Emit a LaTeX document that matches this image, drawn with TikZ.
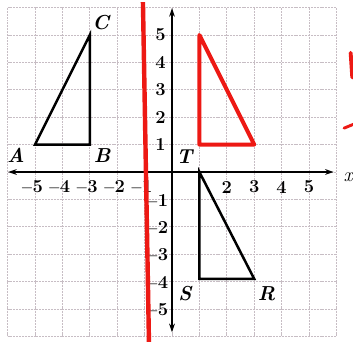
\documentclass[tikz,border=0pt]{standalone}
\usetikzlibrary{arrows.meta}
\definecolor{gridpink}{rgb}{0.78,0.74,0.77}
\definecolor{penred}{rgb}{0.93,0.10,0.08}
\tikzset{
  lbl/.style={font=\fontsize{21}{24}\selectfont\bfseries\itshape},
  num/.style={font=\fontsize{19}{22}\selectfont\bfseries},
  axis/.style={line width=2.2pt, {Stealth[length=9pt,width=6pt]}-{Stealth[length=9pt,width=6pt]}},
  tri/.style={line width=2.6pt, line join=miter},
  redtri/.style={penred, line width=4.2pt, line join=round, line cap=round}
}
\begin{document}
\begin{tikzpicture}
        \useasboundingbox (-6.277,-6.204) rectangle (6.606,6.277);
        \fill[white] (-6.277,-6.204) rectangle (6.606,6.277);
        \draw[step=1cm, gridpink, line width=0.7pt, dash pattern=on 2pt off 1pt] (-6,-6) grid (6,6);
        % axes
        \coordinate (xl) at (-5.98,0);
        \coordinate (xr) at (5.9,0);
        \coordinate (yt) at (0,5.98);
        \coordinate (yb) at (0,-5.85);
        \draw[axis] (xl) -- (xr);
        \draw[axis] (yb) -- (yt);
        \node[font=\fontsize{21}{24}\selectfont\itshape, anchor=east, inner sep=0pt] (xlab) at (6.6,-0.2) {x};
        % tick labels
        \foreach \i in {-5,-4,-3,-2,-1}
          \node[num] (xn\i) at (\i-0.12,-0.55) {$\mathbf{-}$\hspace{-1pt}\the\numexpr-\i\relax};
        \foreach \i in {2,3,4,5}
          \node[num] (xp\i) at (\i,-0.55) {\i};
        \foreach \i in {1,...,5}
          \node[num] (yp\i) at (-0.42,\i) {\i};
        \foreach \i in {1,...,5}
          \node[num] (yn\i) at (-0.55,-\i-0.05) {$\mathbf{-}$\hspace{-1pt}\i};
        % triangle ABC
        \coordinate (A) at (-5,1);
        \coordinate (B) at (-3,1);
        \coordinate (C) at (-3,5);
        \draw[tri] (A) -- (B) -- (C) -- cycle;
        \node[lbl] (Alab) at (-5.7,0.6) {A};
        \node[lbl] (Blab) at (-2.55,0.6) {B};
        \node[lbl] (Clab) at (-2.6,5.45) {C};
        % triangle TSR
        \coordinate (T) at (1,0);
        \coordinate (S) at (1,-3.9);
        \coordinate (R) at (3,-3.9);
        \draw[tri] (T) -- (S) -- (R) -- cycle;
        \node[lbl] (Tlab) at (0.45,0.55) {T};
        \node[lbl] (Slab) at (0.47,-4.45) {S};
        \node[lbl] (Rlab) at (3.45,-4.45) {R};
        % red image
        \coordinate (P) at (1,5);
        \coordinate (Q) at (1,1);
        \coordinate (U) at (3,1);
        \draw[redtri] (P) -- (Q) -- (U) -- cycle;
        \coordinate (mt) at (-1.06,6.2);
        \coordinate (mb) at (-0.84,-6.25);
        \draw[penred, line width=4.6pt] (mt) -- (mb);
        \coordinate (k1) at (6.52,4.35);
        \coordinate (k2) at (6.58,3.45);
        \draw[penred, line width=4pt, line cap=round] (k1) -- (k2);
        \coordinate (k3) at (6.28,1.6);
        \coordinate (k4) at (6.62,1.74);
        \draw[penred, line width=3pt, line cap=round] (k3) -- (k4);
\end{tikzpicture}
\end{document}
